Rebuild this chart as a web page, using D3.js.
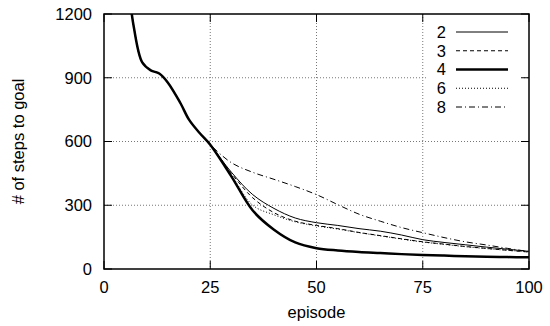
<!DOCTYPE html>
<html>
<head>
<meta charset="utf-8">
<script src="https://cdn.jsdelivr.net/npm/d3@7"></script>
<style>
  body { margin: 0; background: #fff; }
  text { font-family: "Liberation Sans", Arial, sans-serif; }
</style>
</head>
<body>
<div id="chart"></div>
<script>
const width = 550;
const height = 326;

// shared early part of every curve
const earlyEpisodes = [6, 7, 9, 11, 13, 15, 18, 20, 22.5];
const earlyValues = [1290, 1140, 972, 935, 920, 878, 780, 703, 640];

const episodes = [25, 30, 35, 40, 45, 50, 55, 60, 65, 70, 75, 80, 85, 90, 95, 100];
const steps2 = [585, 455, 350, 285, 240, 218, 205, 190, 178, 160, 138, 125, 114, 103, 93, 83];
const steps3 = [585, 450, 335, 265, 225, 205, 190, 172, 157, 142, 128, 117, 106, 97, 88, 80];
const steps4 = [585, 435, 275, 185, 125, 98, 87, 80, 75, 70, 66, 63, 60, 58, 56, 55];
const steps6 = [585, 442, 300, 255, 222, 203, 188, 171, 156, 141, 127, 116, 105, 96, 88, 80];
const steps8 = [585, 500, 455, 422, 388, 350, 303, 258, 225, 195, 171, 148, 128, 113, 97, 82];

const seriesNames = ["2", "3", "4", "6", "8"];
const seriesValues = [steps2, steps3, steps4, steps6, steps8];

const xTicks = [0, 25, 50, 75, 100];
const yTicks = [0, 300, 600, 900, 1200];

const styles = {
  "2": { w: 1, dash: null },
  "3": { w: 1, dash: "4,3" },
  "4": { w: 2.5, dash: null },
  "6": { w: 1, dash: "1,2" },
  "8": { w: 1, dash: "6,3,1,3" }
};

const margin = { top: 14, right: 21, bottom: 57, left: 104 };
const iw = width - margin.left - margin.right;
const ih = height - margin.top - margin.bottom;

const x = d3.scaleLinear().domain([0, 100]).range([0, iw]);
const y = d3.scaleLinear().domain([0, 1200]).range([ih, 0]);

const svg = d3.select("#chart")
  .append("svg")
  .attr("width", width)
  .attr("height", height);

const g = svg.append("g").attr("transform", `translate(${margin.left},${margin.top})`);

g.append("clipPath").attr("id", "clip")
  .append("rect").attr("width", iw).attr("height", ih);

// grid
g.append("g")
  .selectAll("line")
  .data(xTicks.slice(1, -1))
  .join("line")
  .attr("x1", d => x(d)).attr("x2", d => x(d))
  .attr("y1", 0).attr("y2", ih)
  .attr("stroke", "#777").attr("stroke-dasharray", "1,2");

g.append("g")
  .selectAll("line")
  .data(yTicks.slice(1, -1))
  .join("line")
  .attr("x1", 0).attr("x2", iw)
  .attr("y1", d => y(d)).attr("y2", d => y(d))
  .attr("stroke", "#777").attr("stroke-dasharray", "1,2");

// legend background hides the grid behind it
const lx = 428;
g.append("rect")
  .attr("x", lx - margin.left)
  .attr("y", 2)
  .attr("width", 94)
  .attr("height", 102)
  .attr("fill", "#fff");

// ticks (inward, mirrored)
const tl = 8;
const axes = g.append("g").attr("stroke", "#000").attr("stroke-width", 1);
xTicks.forEach(t => {
  axes.append("line").attr("x1", x(t)).attr("x2", x(t)).attr("y1", ih).attr("y2", ih - tl);
  axes.append("line").attr("x1", x(t)).attr("x2", x(t)).attr("y1", 0).attr("y2", tl);
});
yTicks.forEach(t => {
  axes.append("line").attr("x1", 0).attr("x2", tl).attr("y1", y(t)).attr("y2", y(t));
  axes.append("line").attr("x1", iw).attr("x2", iw - tl).attr("y1", y(t)).attr("y2", y(t));
});

// lines
const line = d3.line()
  .x(d => x(d[0]))
  .y(d => y(d[1]))
  .curve(d3.curveCatmullRom.alpha(0.5));

const lines = g.append("g").attr("clip-path", "url(#clip)");
seriesNames.forEach((name, i) => {
  const pts = earlyEpisodes.map((e, j) => [e, earlyValues[j]])
    .concat(episodes.map((e, j) => [e, seriesValues[i][j]]));
  lines.append("path")
    .datum(pts)
    .attr("fill", "none")
    .attr("stroke", "#000")
    .attr("stroke-width", styles[name].w)
    .attr("stroke-dasharray", styles[name].dash)
    .attr("d", line);
});

// frame
g.append("rect")
  .attr("width", iw).attr("height", ih)
  .attr("fill", "none").attr("stroke", "#000").attr("stroke-width", 1.5);

// tick labels
g.append("g")
  .selectAll("text")
  .data(xTicks)
  .join("text")
  .attr("x", d => x(d))
  .attr("y", ih + 24)
  .attr("text-anchor", "middle")
  .style("font-size", "16.5px")
  .text(d => d);

g.append("g")
  .selectAll("text")
  .data(yTicks)
  .join("text")
  .attr("x", -12)
  .attr("y", d => y(d))
  .attr("dy", "0.35em")
  .attr("text-anchor", "end")
  .style("font-size", "16.5px")
  .text(d => d);

// axis titles
svg.append("text")
  .attr("x", margin.left + iw / 2)
  .attr("y", 318)
  .attr("text-anchor", "middle")
  .style("font-size", "16.5px")
  .text("episode");

svg.append("text")
  .attr("transform", `translate(24,${margin.top + ih / 2}) rotate(-90)`)
  .attr("text-anchor", "middle")
  .style("font-size", "16.5px")
  .text("# of steps to goal");

// legend
const legend = svg.append("g");
seriesNames.forEach((name, i) => {
  const ly = 32 + i * 18.75;
  legend.append("text")
    .attr("x", 446)
    .attr("y", ly)
    .attr("dy", "0.35em")
    .attr("text-anchor", "end")
    .style("font-size", "16.5px")
    .text(name);
  legend.append("line")
    .attr("x1", 456).attr("x2", 508)
    .attr("y1", ly).attr("y2", ly)
    .attr("stroke", "#000")
    .attr("stroke-width", styles[name].w)
    .attr("stroke-dasharray", styles[name].dash);
});
</script>
</body>
</html>
